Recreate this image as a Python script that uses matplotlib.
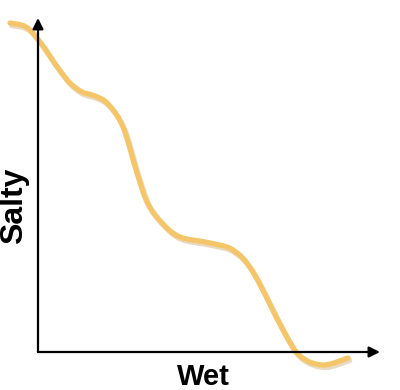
import matplotlib
matplotlib.use("Agg")
import matplotlib.pyplot as plt
import matplotlib.patheffects as pe
from matplotlib.path import Path
from matplotlib.patches import PathPatch

# curve (origin at the axis corner)
wet = [-28, -12, 2, 20, 32, 44, 57, 70, 85, 99, 110, 125, 142, 172, 195, 215, 245, 262, 285, 310]
salty = [329, 325, 310, 284, 269, 260, 256, 248, 225, 179, 148, 128, 115, 109, 102, 80, 22, -4, -13, -6]

x_label = "Wet"
y_label = "Salty"

fig = plt.figure(figsize=(4, 3.9), dpi=100)
ax = fig.add_axes([0, 0, 1, 1])
ax.set_xlim(-38, 362)
ax.set_ylim(-38, 352)
ax.axis("off")

# smooth bezier path through the points (catmull-rom control points)
pts = list(zip(wet, salty))
verts = [pts[0]]
codes = [Path.MOVETO]
for i in range(len(pts) - 1):
    p0 = pts[max(i - 1, 0)]
    p1 = pts[i]
    p2 = pts[i + 1]
    p3 = pts[min(i + 2, len(pts) - 1)]
    c1 = (p1[0] + (p2[0] - p0[0]) / 6, p1[1] + (p2[1] - p0[1]) / 6)
    c2 = (p2[0] - (p3[0] - p1[0]) / 6, p2[1] - (p3[1] - p1[1]) / 6)
    verts += [c1, c2, p2]
    codes += [Path.CURVE4] * 3

curve = PathPatch(Path(verts, codes), fill=False, edgecolor="#f5c56a", lw=3.8,
                  capstyle="round", joinstyle="round", zorder=2,
                  path_effects=[pe.SimpleLineShadow(offset=(1.2, -1.8), shadow_color="#b98a3a", alpha=0.3),
                                pe.Normal()])
ax.add_patch(curve)

# axes with arrow heads
arrow = dict(arrowstyle="-|>", color="black", lw=1.6, mutation_scale=16, shrinkA=0, shrinkB=0)
ax.annotate("", xy=(0, 334), xytext=(0, 0), arrowprops=arrow, zorder=3)
ax.annotate("", xy=(342, 0), xytext=(0, 0), arrowprops=arrow, zorder=3)

ax.text(165, -25, x_label, ha="center", va="center", fontsize=21,
        fontweight="bold", family="Liberation Sans")
ax.text(-24, 146, y_label, ha="center", va="center", fontsize=23,
        fontweight="bold", family="Liberation Sans", rotation=90)

fig.savefig("out.png", dpi=100)
